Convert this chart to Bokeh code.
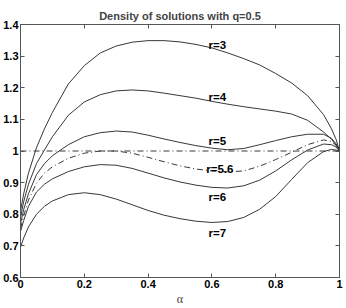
from bokeh.plotting import figure
from bokeh.models import LinearAxis, FixedTicker, Range1d, ColumnDataSource
from bokeh.core.properties import value
from bokeh.embed import file_html
from bokeh.resources import INLINE

alpha = [0, 0.01, 0.025, 0.05, 0.075, 0.1, 0.15, 0.2, 0.25, 0.3, 0.35, 0.4, 0.45,
         0.5, 0.55, 0.6, 0.65, 0.7, 0.75, 0.8, 0.85, 0.9, 0.95, 0.975, 0.99, 1.0]
r3 = [0.81, 0.865, 0.93, 1.01, 1.07, 1.122, 1.212, 1.27, 1.31, 1.332, 1.344, 1.349, 1.349,
      1.345, 1.337, 1.326, 1.31, 1.292, 1.272, 1.245, 1.215, 1.175, 1.115, 1.07, 1.035, 1.0]
r4 = [0.79, 0.84, 0.895, 0.96, 1.003, 1.045, 1.113, 1.155, 1.178, 1.19, 1.193, 1.19, 1.183,
      1.175, 1.167, 1.157, 1.148, 1.14, 1.133, 1.126, 1.117, 1.097, 1.06, 1.037, 1.018, 1.0]
r5 = [0.77, 0.815, 0.865, 0.925, 0.96, 0.985, 1.02, 1.045, 1.058, 1.063, 1.06, 1.05, 1.038,
      1.027, 1.017, 1.009, 1.004, 1.008, 1.02, 1.033, 1.045, 1.053, 1.053, 1.04, 1.022, 1.0]
r56 = [0.755, 0.795, 0.845, 0.898, 0.93, 0.95, 0.977, 0.993, 1.0, 1.0, 0.993, 0.98, 0.966,
       0.953, 0.943, 0.937, 0.934, 0.937, 0.952, 0.973, 0.996, 1.02, 1.035, 1.03, 1.017, 1.0]
r6 = [0.745, 0.78, 0.825, 0.87, 0.895, 0.912, 0.935, 0.95, 0.957, 0.955, 0.945, 0.93, 0.915,
      0.902, 0.892, 0.885, 0.883, 0.89, 0.908, 0.937, 0.972, 1.003, 1.022, 1.02, 1.012, 1.0]
r7 = [0.695, 0.725, 0.76, 0.80, 0.825, 0.842, 0.862, 0.868, 0.862, 0.848, 0.83, 0.812, 0.797,
      0.786, 0.778, 0.774, 0.777, 0.79, 0.816, 0.856, 0.91, 0.963, 0.998, 1.005, 1.003, 1.0]
ref_x = [0, 1]
ref_y = [1, 1]

label_text = ["r=3", "r=4", "r=5", "r=5.6", "r=6", "r=7"]
label_x = [0.617, 0.617, 0.617, 0.625, 0.617, 0.617]
label_y = [1.335, 1.170, 1.032, 0.944, 0.854, 0.741]

x_ticks = [0, 0.2, 0.4, 0.6, 0.8, 1]
x_tick_labels = ["0", "0.2", "0.4", "0.6", "0.8", "1"]
y_ticks = [0.6, 0.7, 0.8, 0.9, 1, 1.1, 1.2, 1.3, 1.4]
y_tick_labels = ["0.6", "0.7", "0.8", "0.9", "1", "1.1", "1.2", "1.3", "1.4"]

FONT = "Liberation Sans"
INK = "#383838"

p = figure(width=346, height=308, output_backend="svg", toolbar_location=None,
           x_range=Range1d(0, 1), y_range=Range1d(0.6, 1.4),
           min_border_left=18, min_border_right=7, min_border_top=24, min_border_bottom=30,
           title="Density of solutions with q=0.5")
p.background_fill_color = "white"
p.border_fill_color = "white"
p.outline_line_color = "#555555"
p.grid.visible = False

p.title.text_font = FONT
p.title.text_font_size = "11px"
p.title.text_font_style = "bold"
p.title.align = "center"
p.title.standoff = 5
p.title.offset = 0

def style_axis(ax, labels=True):
    ax.axis_line_color = "#555555"
    ax.major_tick_line_color = "#555555"
    ax.major_tick_in = 4
    ax.major_tick_out = 0
    ax.minor_tick_line_color = None
    ax.major_label_text_font = FONT
    ax.major_label_text_font_style = "bold"
    if labels:
        ax.major_label_text_color = "black"
        ax.major_label_text_font_size = "11px"
        ax.major_label_standoff = 2
    else:
        ax.major_label_text_color = None
        ax.major_label_text_font_size = "1px"
        ax.major_label_standoff = 0

xax = p.xaxis[0]
xax.ticker = FixedTicker(ticks=x_ticks)
xax.major_label_overrides = dict(zip(x_ticks, x_tick_labels))
style_axis(xax)
xax.axis_label = "α"
xax.axis_label_text_font = "Liberation Serif"
xax.axis_label_text_font_style = "normal"
xax.axis_label_text_font_size = "12px"
xax.axis_label_standoff = 1

yax = p.yaxis[0]
yax.ticker = FixedTicker(ticks=y_ticks)
yax.major_label_overrides = dict(zip(y_ticks, y_tick_labels))
style_axis(yax)

top = LinearAxis(ticker=FixedTicker(ticks=x_ticks))
style_axis(top, labels=False)
p.add_layout(top, "above")
right = LinearAxis(ticker=FixedTicker(ticks=y_ticks))
style_axis(right, labels=False)
p.add_layout(right, "right")

for ys in (r3, r4, r5, r6, r7):
    p.line(alpha, ys, line_color=INK, line_width=1)
p.line(alpha, r56, line_color=INK, line_width=1, line_dash="6 3 1 3")
p.line(ref_x, ref_y, line_color=INK, line_width=1, line_dash="6 3 1 3")

src = ColumnDataSource(dict(x=label_x, y=label_y, t=label_text))
p.text(x="x", y="y", text="t", source=src, text_font=value(FONT), text_font_style="bold",
       text_font_size="11.5px", text_align="center", text_baseline="middle", text_color="black")

open("out.html", "w").write(file_html(p, INLINE))
